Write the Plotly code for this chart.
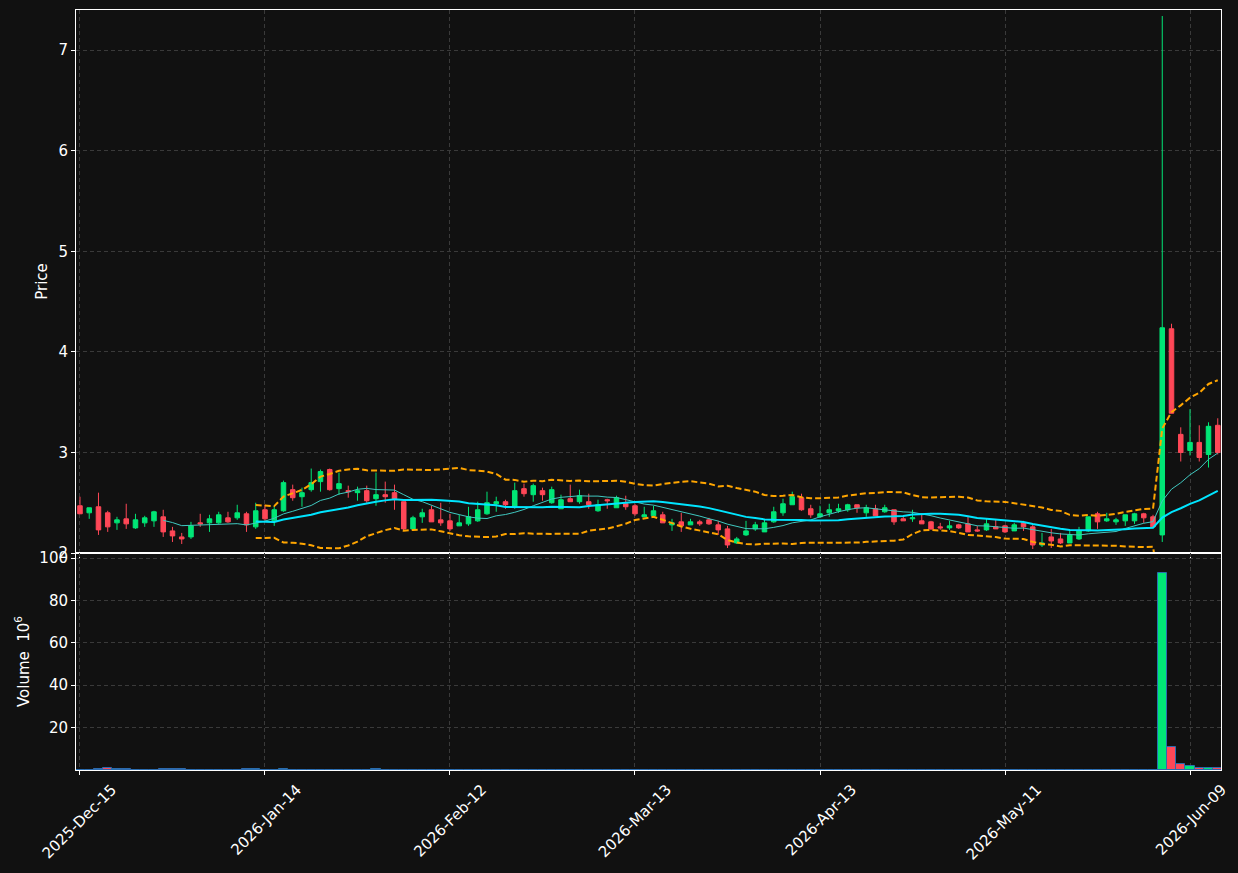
import pandas as pd
import plotly.graph_objects as go
from plotly.subplots import make_subplots

# ---- data -----------------------------------------------------------------
holidays = ["2025-12-25", "2026-01-01", "2026-01-19", "2026-02-16",
            "2026-04-03", "2026-05-25"]
start_date = "2025-12-15"
n_days = 124

opens = [2.47, 2.40, 2.46, 2.40, 2.30, 2.34, 2.25, 2.30, 2.32, 2.36,
         2.22, 2.16, 2.16, 2.30, 2.30, 2.30, 2.35, 2.35, 2.39, 2.26,
         2.43, 2.32, 2.42, 2.63, 2.56, 2.63, 2.71, 2.83, 2.64, 2.62,
         2.60, 2.62, 2.54, 2.58, 2.60, 2.51, 2.24, 2.36, 2.43, 2.33,
         2.32, 2.27, 2.29, 2.32, 2.39, 2.49, 2.51, 2.46, 2.64, 2.58,
         2.62, 2.50, 2.44, 2.54, 2.51, 2.51, 2.42, 2.53, 2.45, 2.49,
         2.47, 2.36, 2.37, 2.38, 2.28, 2.31, 2.28, 2.31, 2.33, 2.28,
         2.24, 2.10, 2.18, 2.24, 2.21, 2.31, 2.40, 2.48, 2.55, 2.44,
         2.36, 2.40, 2.42, 2.43, 2.48, 2.40, 2.44, 2.41, 2.43, 2.34,
         2.34, 2.32, 2.31, 2.26, 2.25, 2.28, 2.29, 2.23, 2.23, 2.26,
         2.27, 2.22, 2.30, 2.26, 2.08, 2.16, 2.14, 2.10, 2.14, 2.22,
         2.39, 2.32, 2.31, 2.32, 2.32, 2.39, 2.36, 2.18, 4.23, 3.18,
         3.02, 3.10, 2.98, 3.27]
highs = [2.56, 2.45, 2.60, 2.42, 2.36, 2.49, 2.39, 2.37, 2.42, 2.43,
         2.26, 2.20, 2.31, 2.39, 2.38, 2.41, 2.41, 2.48, 2.41, 2.50,
         2.48, 2.47, 2.72, 2.68, 2.65, 2.84, 2.83, 2.84, 2.80, 2.67,
         2.66, 2.67, 2.80, 2.71, 2.68, 2.51, 2.37, 2.44, 2.47, 2.50,
         2.39, 2.38, 2.46, 2.51, 2.61, 2.56, 2.53, 2.70, 2.69, 2.69,
         2.65, 2.66, 2.58, 2.68, 2.63, 2.59, 2.53, 2.54, 2.57, 2.57,
         2.49, 2.46, 2.47, 2.41, 2.34, 2.40, 2.34, 2.33, 2.35, 2.32,
         2.27, 2.16, 2.32, 2.31, 2.34, 2.46, 2.54, 2.61, 2.59, 2.48,
         2.47, 2.49, 2.49, 2.49, 2.48, 2.48, 2.48, 2.48, 2.43, 2.37,
         2.43, 2.38, 2.32, 2.30, 2.32, 2.29, 2.36, 2.27, 2.34, 2.33,
         2.28, 2.30, 2.32, 2.28, 2.20, 2.24, 2.20, 2.22, 2.26, 2.36,
         2.41, 2.40, 2.35, 2.38, 2.40, 2.40, 2.38, 7.34, 4.28, 3.25,
         3.43, 3.27, 3.30, 3.34]
lows = [2.39, 2.34, 2.18, 2.21, 2.23, 2.24, 2.24, 2.26, 2.26, 2.16,
        2.11, 2.09, 2.14, 2.26, 2.21, 2.29, 2.30, 2.33, 2.21, 2.24,
        2.32, 2.27, 2.41, 2.52, 2.46, 2.61, 2.61, 2.62, 2.58, 2.55,
        2.52, 2.50, 2.47, 2.50, 2.43, 2.22, 2.23, 2.30, 2.31, 2.27,
        2.22, 2.27, 2.27, 2.31, 2.38, 2.41, 2.44, 2.44, 2.56, 2.51,
        2.52, 2.49, 2.44, 2.51, 2.49, 2.44, 2.41, 2.44, 2.45, 2.43,
        2.37, 2.36, 2.36, 2.30, 2.22, 2.21, 2.28, 2.27, 2.28, 2.18,
        2.05, 2.09, 2.17, 2.22, 2.21, 2.30, 2.37, 2.48, 2.42, 2.35,
        2.35, 2.36, 2.40, 2.41, 2.40, 2.36, 2.37, 2.40, 2.28, 2.32,
        2.31, 2.29, 2.23, 2.23, 2.23, 2.24, 2.21, 2.21, 2.22, 2.24,
        2.20, 2.22, 2.22, 2.04, 2.06, 2.05, 2.09, 2.10, 2.13, 2.21,
        2.24, 2.31, 2.28, 2.27, 2.29, 2.30, 2.26, 2.11, 3.39, 2.91,
        2.97, 2.91, 2.85, 2.98]
closes = [2.39, 2.45, 2.23, 2.26, 2.33, 2.29, 2.33, 2.35, 2.41, 2.21,
          2.17, 2.14, 2.27, 2.29, 2.34, 2.38, 2.31, 2.40, 2.28, 2.42,
          2.34, 2.43, 2.70, 2.55, 2.60, 2.70, 2.81, 2.63, 2.69, 2.61,
          2.62, 2.52, 2.58, 2.56, 2.54, 2.24, 2.35, 2.40, 2.31, 2.30,
          2.24, 2.30, 2.36, 2.43, 2.50, 2.51, 2.48, 2.62, 2.59, 2.67,
          2.58, 2.63, 2.53, 2.51, 2.57, 2.48, 2.48, 2.52, 2.55, 2.46,
          2.39, 2.38, 2.42, 2.30, 2.30, 2.27, 2.31, 2.29, 2.29, 2.23,
          2.08, 2.14, 2.22, 2.28, 2.30, 2.41, 2.49, 2.56, 2.43, 2.38,
          2.39, 2.43, 2.44, 2.48, 2.45, 2.45, 2.37, 2.45, 2.31, 2.32,
          2.35, 2.29, 2.24, 2.25, 2.27, 2.25, 2.21, 2.22, 2.29, 2.24,
          2.21, 2.28, 2.26, 2.08, 2.10, 2.12, 2.10, 2.18, 2.22, 2.36,
          2.31, 2.34, 2.33, 2.38, 2.39, 2.35, 2.26, 4.24, 3.39, 3.00,
          3.10, 2.95, 3.26, 3.00]
# volume in millions
volumes = [0.15, 0.15, 0.5, 1.0, 0.5, 0.5, 0.15, 0.15, 0.15, 0.5,
           0.5, 0.5, 0.15, 0.15, 0.15, 0.15, 0.15, 0.15, 0.5, 0.5,
           0.15, 0.15, 0.5, 0.15, 0.15, 0.15, 0.15, 0.15, 0.15, 0.15,
           0.15, 0.15, 0.5, 0.15, 0.15, 0.15, 0.15, 0.15, 0.15, 0.15,
           0.15, 0.15, 0.15, 0.15, 0.15, 0.15, 0.15, 0.15, 0.15, 0.15,
           0.15, 0.15, 0.15, 0.15, 0.15, 0.15, 0.15, 0.15, 0.15, 0.15,
           0.15, 0.15, 0.15, 0.15, 0.15, 0.15, 0.15, 0.15, 0.15, 0.15,
           0.15, 0.15, 0.15, 0.15, 0.15, 0.15, 0.15, 0.15, 0.15, 0.15,
           0.15, 0.15, 0.15, 0.15, 0.15, 0.15, 0.15, 0.15, 0.15, 0.15,
           0.15, 0.15, 0.15, 0.15, 0.15, 0.15, 0.15, 0.15, 0.15, 0.15,
           0.15, 0.15, 0.15, 0.15, 0.15, 0.15, 0.15, 0.15, 0.15, 0.15,
           0.15, 0.15, 0.15, 0.15, 0.15, 0.15, 0.2, 92.8, 10.7, 2.7,
           2.0, 0.8, 0.8, 0.8]
price_ticks = [2, 3, 4, 5, 6, 7]
volume_ticks = [20, 40, 60, 80, 100]
tick_every = 20

# ---- derived --------------------------------------------------------------
dates = pd.bdate_range(start=start_date, periods=n_days, freq="C",
                       holidays=holidays)
labels = [d.strftime("%Y-%b-%d") for d in dates]
cs = pd.Series(closes)
ma10 = cs.rolling(10).mean()
ma20 = cs.rolling(20).mean()
sd20 = cs.rolling(20).std(ddof=0)
bb_up = ma20 + 2 * sd20
bb_lo = ma20 - 2 * sd20

UP = "#00e676"
DN = "#ff4757"
BG = "#111111"
GRID = "#3a3a3a"
FONT = "DejaVu Sans"
FS = 15

fig = make_subplots(rows=2, cols=1, shared_xaxes=True,
                    row_heights=[0.7145, 0.2855], vertical_spacing=0)

fig.add_trace(go.Candlestick(
    x=labels, open=opens, high=highs, low=lows, close=closes,
    increasing=dict(line=dict(color=UP, width=1), fillcolor=UP),
    decreasing=dict(line=dict(color=DN, width=1), fillcolor=DN),
    whiskerwidth=0, showlegend=False), row=1, col=1)

fig.add_trace(go.Scatter(x=labels, y=ma10, mode="lines",
                         line=dict(color="#40c8c0", width=1),
                         showlegend=False), row=1, col=1)
fig.add_trace(go.Scatter(x=labels, y=ma20, mode="lines",
                         line=dict(color="#00e5ff", width=2),
                         showlegend=False), row=1, col=1)
for band in (bb_up, bb_lo):
    fig.add_trace(go.Scatter(x=labels, y=band, mode="lines",
                             line=dict(color="#ffa500", width=2, dash="6px,3px"),
                             showlegend=False), row=1, col=1)

vol_colors = [UP if c >= o else DN for o, c in zip(opens, closes)]
fig.add_trace(go.Bar(x=labels, y=volumes,
                     marker=dict(color=vol_colors,
                                 line=dict(color="#2b6cb0", width=1)),
                     showlegend=False), row=2, col=1)

tickvals = labels[::tick_every]
common_x = dict(type="category", range=[-0.43, n_days - 1 + 0.35],
                tickvals=tickvals, showgrid=True, gridcolor=GRID,
                griddash="4px,3px", showline=True, linecolor="white",
                linewidth=1, mirror=True, ticks="outside",
                tickcolor="white", ticklen=4, zeroline=False,
                automargin=False)
fig.update_xaxes(**common_x)
fig.update_xaxes(showticklabels=False, rangeslider_visible=False, row=1, col=1)
fig.update_xaxes(showticklabels=True, tickangle=-45, ticklabelshift=32,
                 tickfont=dict(color="white", size=FS, family=FONT),
                 row=2, col=1)

common_y = dict(showgrid=True, gridcolor=GRID, griddash="4px,3px",
                showline=True, linecolor="white", linewidth=1, mirror=True,
                ticks="outside", tickcolor="white", ticklen=4,
                zeroline=False, automargin=False,
                tickfont=dict(color="white", size=FS, family=FONT))
fig.update_yaxes(**common_y)
fig.update_yaxes(range=[2.0, 7.40], tickvals=price_ticks,
                 title=dict(text="Price", standoff=7,
                            font=dict(color="white", size=FS, family=FONT)),
                 row=1, col=1)
fig.update_yaxes(range=[0, 102.4], tickvals=volume_ticks,
                 title=dict(text="Volume  10<sup>6</sup>", standoff=6,
                            font=dict(color="white", size=FS, family=FONT)),
                 row=2, col=1)

fig.update_layout(width=1238, height=873,
                  margin=dict(l=76, r=17, t=10, b=103),
                  paper_bgcolor=BG, plot_bgcolor=BG,
                  bargap=0.0, font=dict(family=FONT, color="white"),
                  hovermode=False)

fig.write_html("out.html")
